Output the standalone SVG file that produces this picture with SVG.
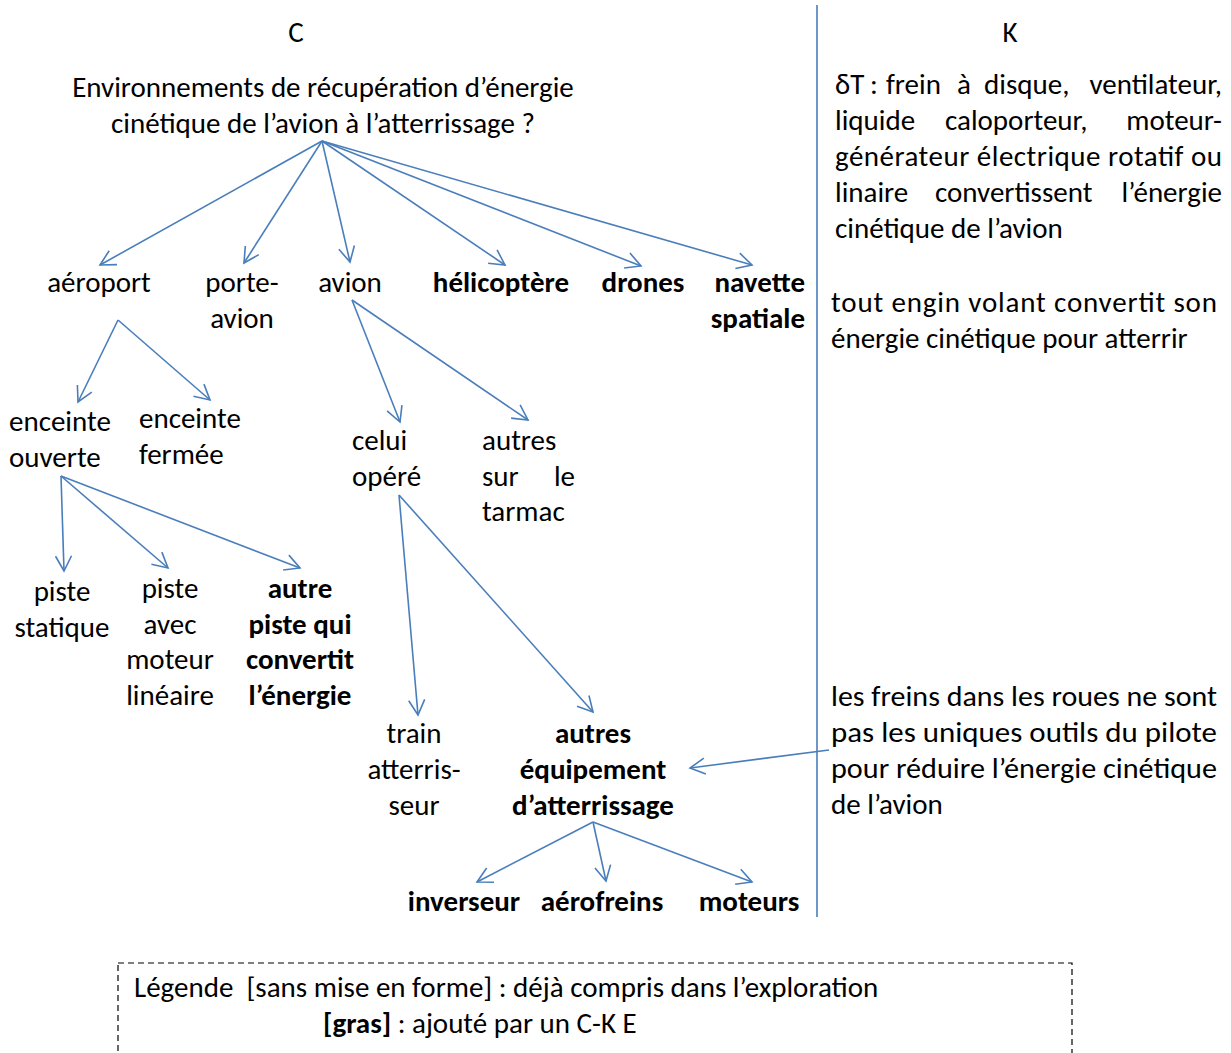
<svg xmlns="http://www.w3.org/2000/svg" width="1231" height="1053" viewBox="0 0 1231 1053">
<style>
text{font-family:Carlito,Calibri,Lato,"Liberation Sans",sans-serif;font-size:29px;fill:#000}
.b{font-weight:bold}
.m{text-anchor:middle}
.e{text-anchor:end}
.c{stroke:#4a7ebb;stroke-width:1.6;fill:none;marker-end:url(#ah)}
</style>
<defs>
<marker id="ah" markerUnits="userSpaceOnUse" markerWidth="24" markerHeight="24" viewBox="-20 -12 24 24" refX="0" refY="0" orient="auto">
<path d="M-15,-8 L0,0 L-15,8" fill="none" stroke="#4a7ebb" stroke-width="1.6"/>
</marker>
</defs>
<rect width="1231" height="1053" fill="#fff"/>
<line x1="817" y1="5" x2="817" y2="917" stroke="#4a7ebb" stroke-width="1.6"/>
<g id="hdr-c"><text class="m" x="296" y="42">C</text></g>
<g id="hdr-k"><text class="m" x="1010" y="42">K</text></g>
<g id="root"><text class="m" x="323" y="97">Environnements de récupération d’énergie</text><text class="m" x="323" y="133">cinétique de l’avion à l’atterrissage ?</text></g>
<g id="aeroport"><text class="m" x="99" y="292">aéroport</text></g>
<g id="porte-avion"><text class="m" x="242" y="292">porte-</text><text class="m" x="242" y="328">avion</text></g>
<g id="avion"><text class="m" x="350" y="292">avion</text></g>
<g id="helicoptere"><text class="m b" x="501" y="292">hélicoptère</text></g>
<g id="drones"><text class="m b" x="643" y="292">drones</text></g>
<g id="navette"><text class="e b" x="805" y="292">navette</text><text class="e b" x="805" y="328">spatiale</text></g>
<g id="enceinte-ouverte"><text x="9" y="431">enceinte</text><text x="9" y="467">ouverte</text></g>
<g id="enceinte-fermee"><text x="139" y="428">enceinte</text><text x="139" y="464">fermée</text></g>
<g id="celui-opere"><text x="352" y="450">celui</text><text x="352" y="486">opéré</text></g>
<g id="autres-tarmac"><text x="482" y="450">autres</text><text x="482" y="486">sur</text><text class="e" x="575" y="486">le</text><text x="482" y="521">tarmac</text></g>
<g id="piste-statique"><text class="m" x="62" y="601">piste</text><text class="m" x="62" y="637">statique</text></g>
<g id="piste-moteur"><text class="m" x="170" y="598">piste</text><text class="m" x="170" y="634">avec</text><text class="m" x="170" y="669">moteur</text><text class="m" x="170" y="705">linéaire</text></g>
<g id="autre-piste"><text class="m b" x="300" y="598">autre</text><text class="m b" x="300" y="634">piste qui</text><text class="m b" x="300" y="669">convertit</text><text class="m b" x="300" y="705">l’énergie</text></g>
<g id="train"><text class="m" x="414" y="743">train</text><text class="m" x="414" y="779">atterris-</text><text class="m" x="414" y="815">seur</text></g>
<g id="autres-equipement"><text class="m b" x="593" y="743">autres</text><text class="m b" x="593" y="779">équipement</text><text class="m b" x="593" y="815">d’atterrissage</text></g>
<g id="inverseur"><text class="m b" x="464" y="911">inverseur</text></g>
<g id="aerofreins"><text class="m b" x="602" y="911">aérofreins</text></g>
<g id="moteurs"><text class="m b" x="749" y="911">moteurs</text></g>
<g id="k-deltaT">
<text x="835" y="94">δT</text><text x="870" y="94">:</text><text x="886" y="94">frein</text><text x="957" y="94">à</text><text x="984" y="94">disque,</text><text class="e" x="1222" y="94">ventilateur,</text>
<text x="835" y="130">liquide</text><text x="945" y="130">caloporteur,</text><text class="e" x="1222" y="130">moteur-</text>
<text x="835" y="166" textLength="387" lengthAdjust="spacing">générateur électrique rotatif ou</text>
<text x="835" y="202">linaire</text><text x="935" y="202">convertissent</text><text class="e" x="1222" y="202">l’énergie</text>
<text x="835" y="238">cinétique de l’avion</text>
</g>
<g id="k-engin"><text x="831" y="312" textLength="386" lengthAdjust="spacing">tout engin volant convertit son</text><text x="831" y="348">énergie cinétique pour atterrir</text></g>
<g id="k-freins"><text x="831" y="706" textLength="386" lengthAdjust="spacingAndGlyphs">les freins dans les roues ne sont</text><text x="831" y="742" textLength="386" lengthAdjust="spacingAndGlyphs">pas les uniques outils du pilote</text><text x="831" y="778" textLength="386" lengthAdjust="spacingAndGlyphs">pour réduire l’énergie cinétique</text><text x="831" y="814">de l’avion</text></g>
<g id="legend">
<rect x="118" y="963" width="954" height="100" fill="none" stroke="#000" stroke-width="1.2" stroke-dasharray="6,4"/>
<text x="134" y="997" xml:space="preserve">Légende  [sans mise en forme] : déjà compris dans l’exploration</text>
<text x="323" y="1033"><tspan class="b">[gras]</tspan> : ajouté par un C-K E</text>
</g>
<g id="connectors">
<path class="c" d="M322,141 L100,265"/>
<path class="c" d="M322,141 L244,263"/>
<path class="c" d="M322,141 L350,262"/>
<path class="c" d="M322,141 L505,265"/>
<path class="c" d="M322,141 L641,266"/>
<path class="c" d="M322,141 L752,265"/>
<path class="c" d="M118,320 L78,402"/>
<path class="c" d="M118,320 L210,400"/>
<path class="c" d="M352,300 L400,422"/>
<path class="c" d="M352,300 L528,420"/>
<path class="c" d="M61,476 L64,571"/>
<path class="c" d="M61,476 L168,568"/>
<path class="c" d="M61,476 L300,568"/>
<path class="c" d="M399,495 L418,715"/>
<path class="c" d="M399,495 L593,712"/>
<path class="c" d="M593,822 L477,882"/>
<path class="c" d="M593,822 L606,881"/>
<path class="c" d="M593,822 L752,882"/>
<path class="c" d="M829,750 L690,768"/>
</g>
</svg>
